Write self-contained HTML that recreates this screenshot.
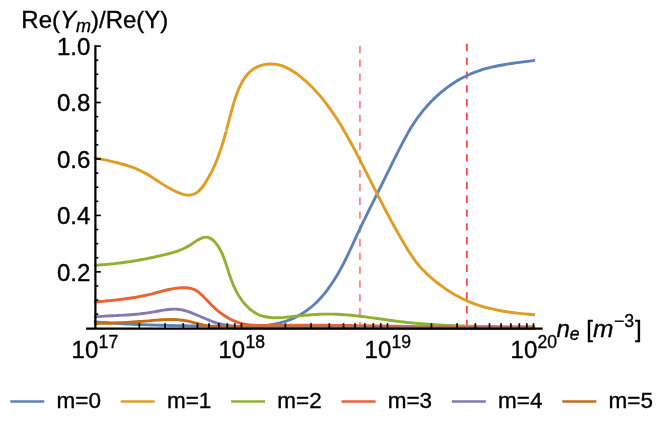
<!DOCTYPE html>
<html><head><meta charset="utf-8"><style>
html,body{margin:0;padding:0;background:#fff;}
body{width:664px;height:428px;position:relative;overflow:hidden;}
svg{position:absolute;left:0;top:0;display:block;will-change:transform;opacity:0.999;}
text{font-family:"Liberation Sans",sans-serif;fill:#000;stroke:#000;stroke-width:0.35px;}
</style></head><body>
<svg width="664" height="428" viewBox="0 0 664 428">
<line x1="359.9" y1="45.8" x2="359.9" y2="327.5" stroke="#ff8a8a" stroke-width="1.9" stroke-dasharray="7.4 6.4"/>
<line x1="466.85" y1="43.8" x2="466.85" y2="327.5" stroke="#ff2a2a" stroke-width="1.5" stroke-dasharray="7.4 6.4"/>
<path d="M95.27 321.86 C95.96 321.91 98.05 322.09 99.44 322.20 C100.83 322.31 102.22 322.41 103.61 322.52 C105.00 322.62 106.39 322.72 107.77 322.82 C109.15 322.91 110.54 323.01 111.92 323.10 C113.30 323.19 114.68 323.28 116.06 323.36 C117.44 323.45 118.82 323.53 120.19 323.61 C121.57 323.69 122.94 323.76 124.32 323.83 C125.69 323.91 127.07 323.98 128.44 324.05 C129.81 324.12 131.18 324.18 132.55 324.24 C133.92 324.31 135.29 324.37 136.66 324.43 C138.03 324.49 139.40 324.54 140.76 324.60 C142.13 324.65 143.50 324.70 144.87 324.75 C146.23 324.80 147.60 324.85 148.96 324.90 C150.33 324.95 151.69 324.99 153.06 325.03 C154.42 325.08 155.79 325.12 157.15 325.16 C158.52 325.20 159.88 325.23 161.25 325.27 C162.61 325.31 163.97 325.34 165.34 325.37 C166.70 325.41 168.07 325.44 169.43 325.47 C170.80 325.50 172.16 325.53 173.53 325.56 C174.89 325.59 176.26 325.62 177.62 325.64 C178.99 325.67 180.35 325.70 181.72 325.72 C183.09 325.75 184.45 325.77 185.82 325.80 C187.19 325.82 188.56 325.84 189.93 325.86 C191.30 325.89 192.67 325.91 194.04 325.93 C195.41 325.95 196.78 325.97 198.15 325.99 C199.52 326.01 200.90 326.03 202.27 326.05 C203.65 326.07 205.02 326.09 206.40 326.11 C207.78 326.13 209.16 326.15 210.53 326.17 C211.91 326.19 213.30 326.21 214.68 326.24 C216.06 326.26 217.44 326.28 218.83 326.30 C220.21 326.32 221.60 326.34 222.99 326.36 C224.38 326.38 225.77 326.41 227.16 326.43 C228.55 326.45 229.95 326.48 231.34 326.50 C232.73 326.52 234.13 326.54 235.53 326.56 C236.92 326.58 238.32 326.59 239.71 326.60 C241.11 326.61 242.50 326.61 243.90 326.60 C245.29 326.59 246.68 326.58 248.07 326.56 C249.46 326.53 250.85 326.50 252.23 326.45 C253.62 326.40 255.00 326.34 256.38 326.26 C257.75 326.18 259.13 326.09 260.49 325.98 C261.86 325.87 263.23 325.75 264.58 325.60 C265.94 325.46 267.29 325.29 268.64 325.10 C269.98 324.92 271.32 324.71 272.65 324.47 C273.99 324.24 275.31 323.98 276.63 323.70 C277.94 323.41 279.25 323.11 280.55 322.77 C281.85 322.43 283.14 322.06 284.42 321.66 C285.70 321.26 286.97 320.83 288.23 320.37 C289.49 319.91 290.74 319.41 291.98 318.88 C293.22 318.35 294.44 317.78 295.66 317.18 C296.87 316.58 298.07 315.94 299.26 315.27 C300.44 314.60 301.62 313.89 302.77 313.16 C303.93 312.42 305.07 311.65 306.20 310.86 C307.32 310.06 308.43 309.24 309.51 308.39 C310.60 307.54 311.67 306.65 312.72 305.75 C313.77 304.85 314.80 303.91 315.81 302.96 C316.81 302.01 317.80 301.03 318.76 300.03 C319.72 299.03 320.66 298.01 321.58 296.97 C322.50 295.93 323.40 294.87 324.27 293.80 C325.15 292.72 326.01 291.63 326.85 290.53 C327.69 289.42 328.51 288.30 329.31 287.18 C330.12 286.05 330.90 284.91 331.67 283.76 C332.45 282.61 333.20 281.45 333.95 280.29 C334.69 279.13 335.41 277.95 336.13 276.77 C336.84 275.59 337.54 274.41 338.23 273.22 C338.92 272.02 339.60 270.82 340.26 269.62 C340.93 268.42 341.58 267.21 342.22 265.99 C342.86 264.78 343.49 263.56 344.12 262.34 C344.74 261.12 345.35 259.89 345.96 258.66 C346.56 257.43 347.16 256.20 347.75 254.96 C348.34 253.72 348.93 252.49 349.51 251.25 C350.09 250.01 350.67 248.76 351.24 247.52 C351.82 246.28 352.39 245.03 352.96 243.79 C353.53 242.54 354.10 241.30 354.67 240.05 C355.24 238.81 355.81 237.56 356.38 236.32 C356.96 235.08 357.53 233.83 358.11 232.59 C358.69 231.35 359.27 230.11 359.86 228.87 C360.45 227.64 361.04 226.40 361.63 225.17 C362.23 223.93 362.83 222.70 363.43 221.46 C364.03 220.23 364.63 219.00 365.24 217.77 C365.84 216.54 366.45 215.31 367.06 214.08 C367.67 212.85 368.28 211.62 368.89 210.39 C369.51 209.16 370.12 207.94 370.73 206.71 C371.35 205.48 371.96 204.25 372.58 203.03 C373.19 201.80 373.81 200.57 374.42 199.34 C375.03 198.11 375.65 196.88 376.26 195.65 C376.87 194.42 377.48 193.19 378.09 191.96 C378.70 190.73 379.31 189.50 379.92 188.27 C380.53 187.03 381.14 185.80 381.74 184.57 C382.35 183.33 382.96 182.10 383.56 180.87 C384.17 179.63 384.77 178.40 385.38 177.17 C385.99 175.93 386.59 174.70 387.20 173.47 C387.80 172.23 388.41 171.00 389.02 169.77 C389.62 168.53 390.23 167.30 390.84 166.07 C391.45 164.84 392.06 163.61 392.67 162.38 C393.28 161.15 393.89 159.92 394.51 158.69 C395.12 157.46 395.74 156.23 396.35 155.00 C396.97 153.78 397.59 152.55 398.21 151.33 C398.83 150.10 399.45 148.88 400.08 147.66 C400.70 146.44 401.33 145.22 401.96 144.00 C402.60 142.78 403.23 141.57 403.88 140.36 C404.52 139.15 405.17 137.94 405.83 136.74 C406.49 135.54 407.16 134.34 407.83 133.15 C408.51 131.96 409.20 130.78 409.90 129.60 C410.60 128.42 411.32 127.25 412.04 126.09 C412.77 124.93 413.52 123.78 414.27 122.64 C415.03 121.49 415.81 120.36 416.60 119.24 C417.39 118.11 418.19 117.00 419.02 115.90 C419.84 114.80 420.67 113.71 421.53 112.63 C422.38 111.55 423.25 110.48 424.13 109.43 C425.01 108.37 425.91 107.33 426.82 106.30 C427.73 105.27 428.66 104.25 429.60 103.25 C430.55 102.25 431.50 101.26 432.47 100.28 C433.44 99.31 434.43 98.35 435.43 97.40 C436.43 96.46 437.44 95.53 438.47 94.61 C439.50 93.70 440.54 92.80 441.59 91.92 C442.65 91.04 443.72 90.17 444.80 89.32 C445.88 88.48 446.98 87.65 448.09 86.83 C449.20 86.02 450.32 85.23 451.45 84.45 C452.59 83.68 453.74 82.92 454.90 82.19 C456.06 81.45 457.23 80.74 458.42 80.05 C459.60 79.36 460.80 78.69 462.00 78.04 C463.21 77.40 464.43 76.78 465.66 76.18 C466.89 75.58 468.14 75.01 469.39 74.47 C470.64 73.92 471.90 73.40 473.18 72.90 C474.45 72.40 475.73 71.92 477.02 71.47 C478.31 71.01 479.61 70.58 480.91 70.16 C482.22 69.75 483.53 69.36 484.85 68.98 C486.17 68.60 487.50 68.25 488.83 67.90 C490.17 67.56 491.50 67.24 492.85 66.93 C494.19 66.62 495.54 66.32 496.89 66.04 C498.24 65.76 499.59 65.49 500.95 65.24 C502.31 64.98 503.67 64.74 505.03 64.50 C506.39 64.27 507.76 64.05 509.12 63.83 C510.49 63.62 511.85 63.41 513.22 63.21 C514.58 63.01 515.95 62.82 517.31 62.63 C518.68 62.45 520.04 62.27 521.40 62.09 C522.76 61.91 524.12 61.74 525.48 61.57 C526.83 61.40 528.19 61.23 529.54 61.07 C530.89 60.90 532.90 60.65 533.58 60.57" fill="none" stroke="#5e81b5" stroke-width="2.9" stroke-linejoin="round" stroke-linecap="square"/>
<path d="M95.51 157.97 C96.27 158.13 98.51 158.62 100.02 158.95 C101.53 159.27 103.05 159.58 104.58 159.91 C106.10 160.23 107.64 160.55 109.17 160.89 C110.70 161.22 112.24 161.56 113.78 161.92 C115.31 162.27 116.85 162.64 118.37 163.02 C119.90 163.41 121.43 163.81 122.94 164.23 C124.46 164.66 125.97 165.10 127.46 165.58 C128.96 166.06 130.45 166.56 131.92 167.09 C133.39 167.63 134.84 168.19 136.28 168.80 C137.72 169.41 139.13 170.05 140.53 170.73 C141.93 171.41 143.30 172.14 144.67 172.89 C146.03 173.65 147.37 174.44 148.71 175.25 C150.04 176.05 151.37 176.89 152.69 177.73 C154.01 178.57 155.33 179.43 156.64 180.28 C157.96 181.14 159.28 182.00 160.60 182.85 C161.93 183.70 163.26 184.55 164.60 185.38 C165.95 186.20 167.30 187.02 168.67 187.80 C170.05 188.59 171.43 189.35 172.85 190.07 C174.26 190.79 175.70 191.50 177.16 192.13 C178.62 192.76 180.12 193.40 181.62 193.87 C183.11 194.34 184.64 194.77 186.13 194.95 C187.62 195.13 189.13 195.15 190.56 194.94 C191.99 194.74 193.41 194.32 194.72 193.71 C196.03 193.11 197.28 192.28 198.43 191.32 C199.58 190.37 200.62 189.19 201.63 187.99 C202.63 186.78 203.55 185.42 204.46 184.09 C205.36 182.76 206.22 181.37 207.05 179.99 C207.88 178.62 208.68 177.22 209.46 175.82 C210.23 174.41 210.97 173.00 211.69 171.57 C212.41 170.14 213.10 168.71 213.76 167.26 C214.43 165.82 215.07 164.37 215.68 162.91 C216.30 161.45 216.89 159.98 217.47 158.51 C218.04 157.04 218.59 155.56 219.13 154.08 C219.66 152.61 220.17 151.12 220.67 149.64 C221.17 148.16 221.65 146.67 222.11 145.19 C222.58 143.70 223.03 142.22 223.47 140.73 C223.91 139.25 224.33 137.77 224.74 136.29 C225.16 134.82 225.56 133.34 225.96 131.87 C226.35 130.40 226.74 128.93 227.13 127.45 C227.52 125.98 227.90 124.51 228.28 123.03 C228.67 121.55 229.05 120.08 229.44 118.59 C229.84 117.10 230.23 115.61 230.63 114.12 C231.04 112.62 231.45 111.11 231.87 109.59 C232.30 108.08 232.73 106.55 233.19 105.01 C233.64 103.48 234.11 101.92 234.60 100.37 C235.09 98.82 235.60 97.25 236.15 95.70 C236.69 94.16 237.26 92.61 237.86 91.10 C238.47 89.58 239.10 88.08 239.78 86.62 C240.46 85.16 241.18 83.72 241.95 82.34 C242.72 80.97 243.53 79.62 244.40 78.35 C245.27 77.08 246.18 75.85 247.17 74.71 C248.15 73.57 249.18 72.49 250.29 71.50 C251.40 70.52 252.57 69.60 253.81 68.80 C255.06 67.99 256.38 67.28 257.76 66.67 C259.14 66.06 260.61 65.56 262.10 65.16 C263.59 64.76 265.15 64.47 266.71 64.28 C268.27 64.09 269.87 64.01 271.46 64.03 C273.05 64.05 274.66 64.18 276.23 64.42 C277.80 64.65 279.37 65.00 280.89 65.45 C282.41 65.90 283.89 66.47 285.33 67.10 C286.78 67.74 288.19 68.48 289.57 69.26 C290.95 70.03 292.29 70.89 293.62 71.75 C294.94 72.62 296.24 73.52 297.51 74.45 C298.78 75.38 300.03 76.34 301.25 77.32 C302.48 78.30 303.68 79.31 304.86 80.34 C306.04 81.37 307.20 82.42 308.34 83.50 C309.48 84.57 310.60 85.66 311.70 86.78 C312.79 87.89 313.87 89.02 314.94 90.16 C316.00 91.31 317.04 92.47 318.07 93.64 C319.10 94.81 320.11 96.00 321.10 97.20 C322.10 98.40 323.08 99.61 324.04 100.83 C325.01 102.05 325.96 103.28 326.89 104.52 C327.83 105.76 328.75 107.02 329.66 108.28 C330.57 109.54 331.47 110.82 332.35 112.10 C333.24 113.38 334.11 114.67 334.97 115.97 C335.83 117.27 336.68 118.58 337.52 119.89 C338.36 121.20 339.18 122.53 340.00 123.86 C340.82 125.19 341.63 126.52 342.43 127.86 C343.23 129.21 344.02 130.55 344.81 131.91 C345.59 133.26 346.37 134.62 347.14 135.98 C347.90 137.35 348.67 138.72 349.42 140.09 C350.18 141.46 350.93 142.84 351.67 144.22 C352.41 145.60 353.15 146.98 353.89 148.36 C354.62 149.75 355.35 151.14 356.08 152.53 C356.80 153.91 357.52 155.31 358.24 156.70 C358.97 158.09 359.68 159.48 360.40 160.88 C361.11 162.27 361.82 163.66 362.54 165.06 C363.25 166.45 363.96 167.85 364.67 169.24 C365.38 170.64 366.08 172.03 366.79 173.43 C367.50 174.82 368.20 176.22 368.91 177.61 C369.61 179.01 370.32 180.40 371.02 181.80 C371.73 183.19 372.43 184.59 373.14 185.98 C373.84 187.37 374.55 188.77 375.26 190.16 C375.96 191.55 376.67 192.94 377.38 194.33 C378.09 195.72 378.80 197.11 379.51 198.50 C380.22 199.89 380.94 201.28 381.65 202.67 C382.37 204.05 383.09 205.44 383.81 206.82 C384.53 208.21 385.25 209.59 385.98 210.97 C386.70 212.35 387.43 213.73 388.16 215.11 C388.89 216.49 389.63 217.86 390.37 219.24 C391.11 220.61 391.85 221.99 392.60 223.36 C393.34 224.73 394.10 226.10 394.85 227.46 C395.61 228.83 396.37 230.19 397.13 231.55 C397.90 232.92 398.67 234.28 399.44 235.63 C400.22 236.99 401.00 238.34 401.79 239.70 C402.57 241.05 403.37 242.40 404.17 243.74 C404.96 245.09 405.77 246.43 406.58 247.77 C407.40 249.10 408.22 250.44 409.06 251.76 C409.90 253.07 410.76 254.39 411.63 255.68 C412.50 256.98 413.39 258.26 414.30 259.52 C415.22 260.79 416.15 262.03 417.11 263.26 C418.08 264.48 419.06 265.69 420.08 266.86 C421.10 268.04 422.15 269.19 423.23 270.32 C424.31 271.45 425.42 272.54 426.56 273.62 C427.69 274.70 428.86 275.75 430.03 276.79 C431.21 277.82 432.42 278.84 433.63 279.83 C434.84 280.83 436.07 281.81 437.31 282.77 C438.55 283.74 439.81 284.68 441.07 285.61 C442.34 286.54 443.62 287.45 444.91 288.34 C446.21 289.22 447.51 290.09 448.83 290.94 C450.15 291.78 451.48 292.61 452.82 293.41 C454.16 294.22 455.52 295.00 456.88 295.75 C458.25 296.51 459.63 297.24 461.02 297.95 C462.41 298.65 463.81 299.33 465.23 299.99 C466.64 300.64 468.07 301.27 469.50 301.87 C470.94 302.47 472.39 303.04 473.85 303.58 C475.31 304.13 476.78 304.64 478.26 305.13 C479.74 305.62 481.23 306.08 482.72 306.52 C484.22 306.96 485.73 307.38 487.24 307.77 C488.75 308.16 490.27 308.53 491.80 308.88 C493.32 309.23 494.85 309.56 496.39 309.87 C497.93 310.18 499.47 310.47 501.01 310.75 C502.56 311.02 504.11 311.28 505.66 311.52 C507.21 311.77 508.76 311.99 510.32 312.21 C511.87 312.43 513.43 312.63 514.98 312.82 C516.54 313.01 518.09 313.19 519.65 313.36 C521.20 313.53 522.76 313.69 524.31 313.84 C525.86 314.00 527.41 314.14 528.95 314.28 C530.50 314.42 532.81 314.62 533.58 314.68" fill="none" stroke="#e19c24" stroke-width="2.9" stroke-linejoin="round" stroke-linecap="square"/>
<path d="M95.51 265.21 C96.09 265.18 97.84 265.08 99.00 265.01 C100.17 264.93 101.33 264.85 102.50 264.77 C103.67 264.68 104.83 264.59 106.00 264.49 C107.16 264.39 108.33 264.28 109.50 264.17 C110.67 264.06 111.83 263.94 113.00 263.82 C114.17 263.69 115.33 263.56 116.50 263.43 C117.66 263.29 118.83 263.15 120.00 263.00 C121.16 262.86 122.33 262.70 123.49 262.55 C124.66 262.39 125.82 262.22 126.98 262.05 C128.15 261.88 129.31 261.71 130.47 261.53 C131.63 261.35 132.80 261.16 133.96 260.97 C135.12 260.78 136.28 260.58 137.43 260.38 C138.59 260.18 139.75 259.97 140.90 259.76 C142.06 259.55 143.21 259.33 144.37 259.11 C145.52 258.89 146.67 258.66 147.82 258.43 C148.97 258.20 150.12 257.96 151.27 257.72 C152.41 257.48 153.56 257.24 154.70 256.99 C155.84 256.74 156.99 256.48 158.12 256.22 C159.26 255.97 160.40 255.70 161.54 255.43 C162.67 255.17 163.80 254.90 164.93 254.62 C166.07 254.34 167.19 254.07 168.32 253.78 C169.44 253.48 170.57 253.19 171.68 252.87 C172.80 252.56 173.91 252.23 175.02 251.88 C176.13 251.53 177.23 251.17 178.32 250.77 C179.42 250.37 180.51 249.96 181.59 249.51 C182.67 249.05 183.74 248.57 184.80 248.05 C185.87 247.53 186.92 246.98 187.97 246.38 C189.01 245.78 190.04 245.13 191.07 244.46 C192.10 243.79 193.11 243.06 194.14 242.37 C195.17 241.68 196.20 240.95 197.25 240.32 C198.31 239.69 199.39 239.05 200.48 238.57 C201.56 238.08 202.67 237.64 203.74 237.41 C204.82 237.18 205.90 237.08 206.92 237.20 C207.95 237.31 208.95 237.65 209.90 238.11 C210.85 238.56 211.77 239.22 212.64 239.92 C213.51 240.63 214.34 241.49 215.12 242.35 C215.90 243.21 216.63 244.15 217.32 245.10 C218.01 246.05 218.65 247.04 219.25 248.04 C219.85 249.05 220.41 250.09 220.95 251.14 C221.48 252.19 221.97 253.27 222.45 254.36 C222.92 255.46 223.36 256.57 223.79 257.69 C224.22 258.80 224.62 259.94 225.02 261.07 C225.41 262.21 225.79 263.36 226.16 264.50 C226.54 265.64 226.90 266.79 227.26 267.93 C227.63 269.06 227.99 270.20 228.36 271.33 C228.72 272.46 229.09 273.58 229.47 274.70 C229.85 275.81 230.23 276.92 230.62 278.02 C231.02 279.12 231.42 280.21 231.83 281.30 C232.25 282.38 232.68 283.46 233.12 284.52 C233.57 285.59 234.03 286.65 234.51 287.70 C235.00 288.74 235.50 289.78 236.02 290.81 C236.55 291.83 237.09 292.85 237.67 293.86 C238.24 294.86 238.84 295.86 239.47 296.84 C240.10 297.82 240.76 298.79 241.45 299.75 C242.14 300.71 242.87 301.66 243.63 302.58 C244.38 303.51 245.18 304.43 246.00 305.31 C246.82 306.19 247.68 307.05 248.56 307.87 C249.44 308.69 250.35 309.47 251.28 310.20 C252.22 310.94 253.18 311.63 254.16 312.26 C255.14 312.88 256.15 313.45 257.17 313.96 C258.19 314.47 259.24 314.91 260.30 315.30 C261.36 315.70 262.44 316.03 263.54 316.31 C264.63 316.60 265.74 316.83 266.86 317.02 C267.99 317.22 269.12 317.36 270.27 317.48 C271.42 317.59 272.58 317.66 273.74 317.70 C274.91 317.74 276.08 317.75 277.27 317.73 C278.45 317.72 279.64 317.67 280.83 317.61 C282.02 317.55 283.22 317.47 284.41 317.38 C285.61 317.28 286.81 317.17 288.01 317.05 C289.21 316.94 290.41 316.81 291.61 316.68 C292.80 316.56 294.00 316.43 295.19 316.30 C296.38 316.18 297.56 316.05 298.75 315.93 C299.93 315.81 301.11 315.69 302.29 315.57 C303.46 315.46 304.64 315.35 305.81 315.24 C306.98 315.13 308.15 315.03 309.32 314.94 C310.49 314.84 311.65 314.75 312.82 314.67 C313.98 314.59 315.15 314.51 316.31 314.45 C317.47 314.38 318.63 314.32 319.79 314.27 C320.95 314.22 322.11 314.18 323.27 314.15 C324.43 314.12 325.59 314.10 326.76 314.10 C327.92 314.09 329.08 314.09 330.24 314.10 C331.40 314.12 332.56 314.14 333.72 314.17 C334.88 314.21 336.05 314.25 337.21 314.30 C338.37 314.35 339.53 314.42 340.70 314.48 C341.86 314.55 343.02 314.63 344.18 314.72 C345.35 314.80 346.51 314.89 347.68 314.99 C348.84 315.09 350.00 315.20 351.17 315.31 C352.33 315.42 353.50 315.54 354.66 315.66 C355.82 315.79 356.99 315.92 358.15 316.05 C359.32 316.18 360.48 316.32 361.65 316.46 C362.81 316.61 363.98 316.75 365.15 316.90 C366.31 317.05 367.48 317.20 368.64 317.36 C369.81 317.51 370.97 317.67 372.14 317.83 C373.31 317.99 374.47 318.15 375.64 318.31 C376.81 318.47 377.97 318.64 379.14 318.80 C380.31 318.96 381.47 319.13 382.64 319.29 C383.81 319.46 384.97 319.62 386.14 319.78 C387.31 319.94 388.47 320.11 389.64 320.26 C390.81 320.42 391.98 320.58 393.14 320.74 C394.31 320.89 395.48 321.05 396.65 321.19 C397.81 321.34 398.98 321.49 400.15 321.63 C401.31 321.77 402.48 321.91 403.65 322.05 C404.82 322.18 405.98 322.31 407.15 322.44 C408.32 322.56 409.49 322.69 410.66 322.81 C411.82 322.92 412.99 323.04 414.16 323.15 C415.33 323.26 416.49 323.37 417.66 323.47 C418.83 323.58 420.00 323.68 421.17 323.78 C422.33 323.87 423.50 323.97 424.67 324.06 C425.84 324.15 427.01 324.24 428.17 324.32 C429.34 324.41 430.51 324.49 431.68 324.56 C432.85 324.64 434.02 324.72 435.18 324.79 C436.35 324.86 437.52 324.93 438.69 325.00 C439.86 325.06 441.03 325.13 442.20 325.19 C443.37 325.25 444.53 325.31 445.70 325.37 C446.87 325.42 448.04 325.47 449.21 325.53 C450.38 325.58 451.55 325.63 452.72 325.67 C453.89 325.72 455.06 325.76 456.23 325.80 C457.40 325.85 458.57 325.89 459.74 325.92 C460.91 325.96 462.08 326.00 463.25 326.03 C464.42 326.07 465.59 326.10 466.76 326.13 C467.93 326.16 469.10 326.19 470.27 326.21 C471.44 326.24 472.61 326.26 473.78 326.29 C474.95 326.31 476.12 326.33 477.29 326.35 C478.46 326.37 479.64 326.39 480.81 326.41 C481.98 326.43 483.15 326.45 484.32 326.46 C485.49 326.48 486.66 326.49 487.84 326.50 C489.01 326.52 490.18 326.53 491.35 326.54 C492.52 326.55 493.70 326.56 494.87 326.57 C496.04 326.58 497.21 326.59 498.39 326.60 C499.56 326.61 500.73 326.61 501.91 326.62 C503.08 326.63 504.25 326.63 505.43 326.64 C506.60 326.64 507.77 326.65 508.95 326.66 C510.12 326.66 511.30 326.66 512.47 326.67 C513.64 326.67 514.82 326.68 515.99 326.68 C517.17 326.69 518.34 326.69 519.52 326.70 C520.69 326.70 521.87 326.70 523.04 326.71 C524.22 326.71 525.39 326.72 526.57 326.72 C527.75 326.73 528.92 326.73 530.10 326.74 C531.27 326.75 533.04 326.76 533.63 326.76" fill="none" stroke="#8fb032" stroke-width="2.9" stroke-linejoin="round" stroke-linecap="square"/>
<path d="M95.40 302.03 C95.94 301.98 97.56 301.82 98.64 301.72 C99.73 301.61 100.81 301.51 101.89 301.40 C102.97 301.30 104.05 301.20 105.13 301.09 C106.21 300.99 107.29 300.88 108.36 300.77 C109.44 300.66 110.52 300.55 111.60 300.44 C112.67 300.33 113.75 300.22 114.82 300.10 C115.90 299.98 116.97 299.86 118.05 299.74 C119.12 299.62 120.19 299.49 121.27 299.36 C122.34 299.23 123.41 299.10 124.48 298.96 C125.55 298.82 126.62 298.67 127.69 298.52 C128.76 298.37 129.83 298.22 130.89 298.05 C131.96 297.89 133.03 297.73 134.09 297.55 C135.16 297.38 136.22 297.19 137.29 297.01 C138.35 296.82 139.41 296.62 140.48 296.42 C141.54 296.21 142.60 296.00 143.66 295.78 C144.72 295.55 145.78 295.32 146.84 295.08 C147.90 294.84 148.96 294.59 150.01 294.34 C151.07 294.08 152.13 293.81 153.18 293.53 C154.24 293.26 155.29 292.97 156.35 292.69 C157.40 292.41 158.46 292.12 159.51 291.84 C160.57 291.56 161.62 291.28 162.68 291.01 C163.73 290.74 164.79 290.47 165.84 290.22 C166.90 289.97 167.96 289.72 169.02 289.49 C170.08 289.27 171.14 289.05 172.20 288.86 C173.26 288.67 174.32 288.49 175.39 288.34 C176.45 288.19 177.52 288.06 178.59 287.97 C179.66 287.87 180.73 287.80 181.81 287.76 C182.88 287.72 183.96 287.71 185.04 287.74 C186.12 287.78 187.21 287.82 188.28 287.96 C189.35 288.09 190.43 288.25 191.46 288.54 C192.50 288.83 193.51 289.21 194.48 289.67 C195.45 290.14 196.38 290.72 197.28 291.32 C198.18 291.92 199.04 292.59 199.87 293.27 C200.71 293.96 201.50 294.68 202.28 295.41 C203.07 296.15 203.82 296.92 204.57 297.69 C205.32 298.46 206.05 299.25 206.79 300.04 C207.53 300.83 208.25 301.63 209.00 302.42 C209.74 303.21 210.49 304.00 211.26 304.78 C212.03 305.55 212.81 306.32 213.60 307.07 C214.40 307.82 215.21 308.56 216.04 309.28 C216.86 310.00 217.70 310.71 218.56 311.40 C219.41 312.09 220.28 312.76 221.16 313.41 C222.04 314.06 222.93 314.69 223.84 315.30 C224.74 315.91 225.66 316.50 226.59 317.06 C227.52 317.62 228.46 318.16 229.42 318.67 C230.37 319.19 231.33 319.67 232.31 320.13 C233.28 320.58 234.27 321.01 235.27 321.41 C236.26 321.81 237.27 322.17 238.28 322.51 C239.30 322.84 240.32 323.14 241.35 323.40 C242.39 323.67 243.43 323.90 244.48 324.11 C245.53 324.31 246.59 324.49 247.65 324.64 C248.71 324.79 249.78 324.91 250.86 325.02 C251.93 325.12 253.01 325.21 254.09 325.27 C255.17 325.34 256.26 325.39 257.35 325.42 C258.44 325.46 259.53 325.48 260.63 325.50 C261.72 325.51 262.82 325.51 263.91 325.51 C265.01 325.51 266.10 325.50 267.20 325.49 C268.29 325.48 269.39 325.47 270.48 325.46 C271.57 325.45 272.66 325.44 273.75 325.43 C274.84 325.42 275.93 325.41 277.01 325.40 C278.10 325.39 279.19 325.38 280.27 325.37 C281.36 325.37 282.44 325.36 283.52 325.35 C284.61 325.34 285.69 325.33 286.77 325.33 C287.85 325.32 288.93 325.31 290.02 325.31 C291.10 325.30 292.18 325.29 293.26 325.29 C294.34 325.28 295.42 325.28 296.50 325.27 C297.58 325.27 298.65 325.27 299.73 325.26 C300.81 325.26 301.89 325.26 302.97 325.25 C304.05 325.25 305.13 325.25 306.21 325.25 C307.29 325.25 308.37 325.25 309.45 325.25 C310.53 325.25 311.61 325.25 312.70 325.26 C313.78 325.26 314.86 325.26 315.94 325.27 C317.02 325.27 318.10 325.27 319.18 325.28 C320.26 325.28 321.35 325.29 322.43 325.29 C323.51 325.30 324.59 325.30 325.67 325.31 C326.76 325.32 327.84 325.33 328.92 325.33 C330.00 325.34 331.08 325.35 332.17 325.36 C333.25 325.37 334.33 325.38 335.42 325.39 C336.50 325.40 337.58 325.41 338.66 325.42 C339.75 325.43 340.83 325.44 341.91 325.45 C343.00 325.46 344.08 325.47 345.16 325.49 C346.25 325.50 347.33 325.51 348.41 325.52 C349.50 325.54 350.58 325.55 351.66 325.56 C352.75 325.58 353.83 325.59 354.91 325.60 C356.00 325.62 357.08 325.63 358.16 325.65 C359.25 325.66 360.33 325.68 361.42 325.69 C362.50 325.71 363.58 325.72 364.67 325.74 C365.75 325.75 366.83 325.77 367.92 325.79 C369.00 325.80 370.09 325.82 371.17 325.84 C372.25 325.85 373.34 325.87 374.42 325.89 C375.50 325.90 376.59 325.92 377.67 325.94 C378.75 325.95 379.84 325.97 380.92 325.99 C382.00 326.01 383.09 326.02 384.17 326.04 C385.26 326.06 386.34 326.08 387.42 326.09 C388.50 326.11 389.59 326.13 390.67 326.15 C391.75 326.16 392.84 326.18 393.92 326.20 C395.00 326.22 396.09 326.24 397.17 326.25 C398.25 326.27 399.34 326.29 400.42 326.31 C401.50 326.33 402.58 326.34 403.67 326.36 C404.75 326.38 405.83 326.40 406.92 326.42 C408.00 326.43 409.08 326.45 410.16 326.47 C411.25 326.49 412.33 326.51 413.41 326.53 C414.50 326.54 415.58 326.56 416.66 326.58 C417.74 326.60 418.83 326.62 419.91 326.63 C420.99 326.65 422.07 326.67 423.16 326.69 C424.24 326.71 425.32 326.72 426.40 326.74 C427.49 326.76 428.57 326.78 429.65 326.80 C430.74 326.81 431.82 326.83 432.90 326.85 C433.98 326.87 435.07 326.88 436.15 326.90 C437.23 326.92 438.31 326.94 439.39 326.95 C440.48 326.97 441.56 326.99 442.64 327.01 C443.72 327.02 444.81 327.04 445.89 327.06 C446.97 327.07 448.05 327.09 449.14 327.11 C450.22 327.12 451.30 327.14 452.38 327.16 C453.47 327.17 454.55 327.19 455.63 327.20 C456.71 327.22 457.80 327.24 458.88 327.25 C459.96 327.27 461.04 327.28 462.13 327.30 C463.21 327.31 464.29 327.33 465.37 327.34 C466.46 327.36 467.54 327.37 468.62 327.39 C469.70 327.40 470.79 327.42 471.87 327.43 C472.95 327.45 474.03 327.46 475.12 327.47 C476.20 327.49 477.28 327.50 478.36 327.52 C479.45 327.53 480.53 327.54 481.61 327.55 C482.70 327.57 483.78 327.58 484.86 327.59 C485.94 327.60 487.03 327.62 488.11 327.63 C489.19 327.64 490.27 327.65 491.36 327.66 C492.44 327.68 493.52 327.69 494.61 327.70 C495.69 327.71 496.77 327.72 497.85 327.73 C498.94 327.74 500.02 327.75 501.10 327.76 C502.19 327.77 503.27 327.78 504.35 327.79 C505.44 327.80 506.52 327.80 507.60 327.81 C508.69 327.82 509.77 327.83 510.85 327.84 C511.94 327.85 513.02 327.85 514.10 327.86 C515.19 327.87 516.27 327.87 517.35 327.88 C518.44 327.89 519.52 327.89 520.60 327.90 C521.69 327.90 522.77 327.91 523.85 327.91 C524.94 327.92 526.02 327.92 527.10 327.93 C528.19 327.93 529.27 327.93 530.36 327.94 C531.44 327.94 533.07 327.95 533.61 327.95" fill="none" stroke="#eb6235" stroke-width="2.9" stroke-linejoin="round" stroke-linecap="square"/>
<path d="M95.39 316.83 C95.92 316.79 97.52 316.66 98.59 316.58 C99.65 316.50 100.71 316.43 101.77 316.36 C102.84 316.29 103.90 316.23 104.96 316.16 C106.02 316.10 107.07 316.04 108.13 315.99 C109.19 315.93 110.25 315.88 111.30 315.82 C112.36 315.77 113.41 315.72 114.47 315.66 C115.52 315.61 116.58 315.56 117.63 315.51 C118.68 315.45 119.74 315.40 120.79 315.34 C121.84 315.29 122.89 315.23 123.95 315.17 C125.00 315.11 126.05 315.05 127.10 314.98 C128.15 314.91 129.20 314.84 130.25 314.76 C131.30 314.69 132.35 314.61 133.41 314.52 C134.46 314.43 135.51 314.34 136.56 314.24 C137.61 314.14 138.66 314.04 139.71 313.92 C140.76 313.81 141.81 313.69 142.86 313.56 C143.92 313.43 144.97 313.29 146.02 313.14 C147.07 312.99 148.13 312.83 149.18 312.66 C150.23 312.49 151.29 312.30 152.34 312.12 C153.39 311.93 154.45 311.73 155.50 311.54 C156.56 311.34 157.61 311.14 158.67 310.95 C159.72 310.76 160.77 310.57 161.83 310.39 C162.88 310.22 163.93 310.05 164.98 309.90 C166.03 309.76 167.08 309.62 168.13 309.51 C169.18 309.40 170.23 309.31 171.27 309.25 C172.32 309.20 173.36 309.16 174.40 309.17 C175.44 309.17 176.48 309.20 177.52 309.28 C178.56 309.36 179.59 309.47 180.62 309.64 C181.65 309.80 182.68 310.01 183.71 310.26 C184.73 310.51 185.75 310.82 186.77 311.14 C187.79 311.46 188.80 311.82 189.80 312.18 C190.81 312.55 191.81 312.95 192.80 313.34 C193.79 313.73 194.78 314.14 195.76 314.54 C196.74 314.95 197.71 315.36 198.68 315.77 C199.66 316.18 200.62 316.60 201.59 317.02 C202.56 317.44 203.53 317.86 204.50 318.28 C205.47 318.70 206.44 319.12 207.42 319.54 C208.40 319.95 209.37 320.36 210.36 320.75 C211.34 321.15 212.33 321.53 213.32 321.89 C214.32 322.25 215.32 322.60 216.33 322.91 C217.34 323.22 218.35 323.51 219.38 323.77 C220.40 324.03 221.43 324.26 222.47 324.48 C223.50 324.69 224.54 324.88 225.59 325.06 C226.63 325.23 227.68 325.38 228.73 325.52 C229.78 325.67 230.83 325.79 231.88 325.91 C232.93 326.02 233.99 326.12 235.04 326.22 C236.09 326.31 237.15 326.39 238.20 326.46 C239.26 326.53 240.31 326.59 241.37 326.65 C242.43 326.70 243.49 326.74 244.54 326.78 C245.60 326.82 246.66 326.85 247.72 326.88 C248.78 326.90 249.84 326.92 250.90 326.94 C251.96 326.96 253.02 326.97 254.08 326.98 C255.14 326.98 256.20 326.99 257.26 326.99 C258.32 327.00 259.38 327.00 260.44 327.00 C261.50 327.00 262.56 327.00 263.62 327.01 C264.68 327.01 265.74 327.01 266.80 327.02 C267.86 327.02 268.92 327.02 269.97 327.03 C271.03 327.03 272.09 327.04 273.15 327.05 C274.21 327.05 275.27 327.06 276.33 327.07 C277.39 327.07 278.45 327.08 279.51 327.09 C280.56 327.10 281.62 327.10 282.68 327.11 C283.74 327.12 284.80 327.13 285.86 327.14 C286.92 327.15 287.97 327.16 289.03 327.17 C290.09 327.17 291.15 327.18 292.21 327.19 C293.27 327.20 294.32 327.21 295.38 327.22 C296.44 327.23 297.50 327.24 298.56 327.25 C299.62 327.26 300.67 327.26 301.73 327.27 C302.79 327.28 303.85 327.29 304.91 327.30 C305.97 327.30 307.02 327.31 308.08 327.32 C309.14 327.33 310.20 327.33 311.26 327.34 C312.32 327.35 313.38 327.35 314.43 327.36 C315.49 327.37 316.55 327.37 317.61 327.38 C318.67 327.38 319.73 327.39 320.79 327.40 C321.84 327.40 322.90 327.41 323.96 327.41 C325.02 327.42 326.08 327.42 327.14 327.43 C328.20 327.43 329.25 327.44 330.31 327.44 C331.37 327.45 332.43 327.45 333.49 327.46 C334.55 327.46 335.61 327.46 336.67 327.47 C337.72 327.47 338.78 327.48 339.84 327.48 C340.90 327.49 341.96 327.49 343.02 327.49 C344.08 327.50 345.14 327.50 346.20 327.50 C347.25 327.51 348.31 327.51 349.37 327.52 C350.43 327.52 351.49 327.52 352.55 327.53 C353.61 327.53 354.67 327.53 355.73 327.54 C356.78 327.54 357.84 327.54 358.90 327.55 C359.96 327.55 361.02 327.55 362.08 327.55 C363.14 327.56 364.20 327.56 365.26 327.56 C366.31 327.57 367.37 327.57 368.43 327.57 C369.49 327.58 370.55 327.58 371.61 327.58 C372.67 327.59 373.73 327.59 374.79 327.59 C375.84 327.59 376.90 327.60 377.96 327.60 C379.02 327.60 380.08 327.61 381.14 327.61 C382.20 327.61 383.26 327.62 384.31 327.62 C385.37 327.62 386.43 327.63 387.49 327.63 C388.55 327.63 389.61 327.64 390.67 327.64 C391.73 327.64 392.79 327.65 393.84 327.65 C394.90 327.65 395.96 327.66 397.02 327.66 C398.08 327.67 399.14 327.67 400.20 327.67 C401.26 327.68 402.31 327.68 403.37 327.69 C404.43 327.69 405.49 327.69 406.55 327.70 C407.61 327.70 408.67 327.70 409.73 327.71 C410.79 327.71 411.84 327.72 412.90 327.72 C413.96 327.73 415.02 327.73 416.08 327.73 C417.14 327.74 418.20 327.74 419.26 327.75 C420.31 327.75 421.37 327.75 422.43 327.76 C423.49 327.76 424.55 327.77 425.61 327.77 C426.67 327.78 427.73 327.78 428.78 327.78 C429.84 327.79 430.90 327.79 431.96 327.80 C433.02 327.80 434.08 327.81 435.14 327.81 C436.19 327.82 437.25 327.82 438.31 327.82 C439.37 327.83 440.43 327.83 441.49 327.84 C442.55 327.84 443.61 327.85 444.66 327.85 C445.72 327.86 446.78 327.86 447.84 327.86 C448.90 327.87 449.96 327.87 451.02 327.88 C452.08 327.88 453.13 327.89 454.19 327.89 C455.25 327.90 456.31 327.90 457.37 327.91 C458.43 327.91 459.49 327.91 460.55 327.92 C461.60 327.92 462.66 327.93 463.72 327.93 C464.78 327.94 465.84 327.94 466.90 327.95 C467.96 327.95 469.01 327.96 470.07 327.96 C471.13 327.96 472.19 327.97 473.25 327.97 C474.31 327.98 475.37 327.98 476.43 327.99 C477.48 327.99 478.54 327.99 479.60 328.00 C480.66 328.00 481.72 328.01 482.78 328.01 C483.84 328.02 484.90 328.02 485.95 328.03 C487.01 328.03 488.07 328.03 489.13 328.04 C490.19 328.04 491.25 328.05 492.31 328.05 C493.37 328.05 494.42 328.06 495.48 328.06 C496.54 328.07 497.60 328.07 498.66 328.08 C499.72 328.08 500.78 328.08 501.84 328.09 C502.89 328.09 503.95 328.10 505.01 328.10 C506.07 328.10 507.13 328.11 508.19 328.11 C509.25 328.11 510.31 328.12 511.36 328.12 C512.42 328.13 513.48 328.13 514.54 328.13 C515.60 328.14 516.66 328.14 517.72 328.14 C518.78 328.15 519.84 328.15 520.89 328.15 C521.95 328.16 523.01 328.16 524.07 328.16 C525.13 328.17 526.19 328.17 527.25 328.17 C528.31 328.18 529.37 328.18 530.42 328.18 C531.48 328.19 533.07 328.19 533.60 328.19" fill="none" stroke="#8778b3" stroke-width="2.9" stroke-linejoin="round" stroke-linecap="square"/>
<path d="M95.40 323.51 C95.92 323.50 97.51 323.47 98.57 323.45 C99.63 323.42 100.68 323.40 101.74 323.37 C102.79 323.34 103.85 323.32 104.90 323.28 C105.95 323.25 107.01 323.22 108.06 323.19 C109.11 323.15 110.16 323.11 111.22 323.08 C112.27 323.04 113.32 323.00 114.37 322.95 C115.42 322.91 116.47 322.87 117.52 322.82 C118.57 322.77 119.62 322.73 120.67 322.68 C121.72 322.62 122.76 322.57 123.81 322.52 C124.86 322.46 125.91 322.41 126.96 322.35 C128.01 322.29 129.06 322.23 130.11 322.17 C131.15 322.11 132.20 322.04 133.25 321.98 C134.30 321.91 135.35 321.84 136.40 321.77 C137.45 321.70 138.50 321.63 139.55 321.55 C140.60 321.48 141.65 321.40 142.70 321.32 C143.75 321.24 144.80 321.16 145.86 321.08 C146.91 321.00 147.96 320.91 149.01 320.82 C150.07 320.74 151.12 320.65 152.17 320.56 C153.23 320.47 154.28 320.38 155.34 320.29 C156.39 320.20 157.45 320.11 158.50 320.03 C159.56 319.95 160.62 319.88 161.67 319.81 C162.72 319.74 163.78 319.68 164.83 319.63 C165.89 319.58 166.94 319.54 167.99 319.51 C169.05 319.48 170.10 319.47 171.15 319.47 C172.20 319.47 173.25 319.48 174.30 319.52 C175.34 319.55 176.39 319.60 177.44 319.67 C178.48 319.75 179.52 319.84 180.57 319.96 C181.61 320.07 182.65 320.21 183.68 320.37 C184.72 320.53 185.76 320.71 186.79 320.91 C187.82 321.11 188.85 321.33 189.88 321.56 C190.91 321.79 191.93 322.04 192.96 322.29 C193.98 322.55 195.00 322.83 196.02 323.10 C197.04 323.37 198.06 323.65 199.08 323.92 C200.10 324.19 201.11 324.46 202.14 324.71 C203.16 324.96 204.18 325.20 205.21 325.42 C206.24 325.63 207.27 325.83 208.31 326.00 C209.34 326.18 210.38 326.33 211.42 326.48 C212.46 326.62 213.51 326.74 214.55 326.85 C215.60 326.96 216.64 327.05 217.69 327.13 C218.74 327.21 219.79 327.28 220.84 327.34 C221.89 327.40 222.94 327.45 224.00 327.49 C225.05 327.54 226.10 327.57 227.15 327.60 C228.21 327.63 229.26 327.65 230.31 327.67 C231.37 327.68 232.42 327.70 233.47 327.71 C234.53 327.72 235.58 327.72 236.63 327.73 C237.69 327.73 238.74 327.74 239.79 327.74 C240.85 327.74 241.90 327.75 242.95 327.75 C244.01 327.75 245.06 327.76 246.11 327.76 C247.17 327.76 248.22 327.77 249.27 327.77 C250.33 327.77 251.38 327.78 252.43 327.78 C253.49 327.78 254.54 327.79 255.59 327.79 C256.65 327.79 257.70 327.79 258.75 327.80 C259.81 327.80 260.86 327.80 261.91 327.81 C262.97 327.81 264.02 327.81 265.07 327.82 C266.13 327.82 267.18 327.82 268.23 327.82 C269.28 327.83 270.34 327.83 271.39 327.83 C272.44 327.84 273.50 327.84 274.55 327.84 C275.60 327.84 276.66 327.85 277.71 327.85 C278.76 327.85 279.82 327.85 280.87 327.86 C281.92 327.86 282.98 327.86 284.03 327.86 C285.08 327.87 286.14 327.87 287.19 327.87 C288.24 327.87 289.30 327.88 290.35 327.88 C291.40 327.88 292.46 327.88 293.51 327.89 C294.56 327.89 295.61 327.89 296.67 327.89 C297.72 327.90 298.77 327.90 299.83 327.90 C300.88 327.90 301.93 327.91 302.99 327.91 C304.04 327.91 305.09 327.91 306.15 327.91 C307.20 327.92 308.25 327.92 309.31 327.92 C310.36 327.92 311.41 327.93 312.46 327.93 C313.52 327.93 314.57 327.93 315.62 327.93 C316.68 327.94 317.73 327.94 318.78 327.94 C319.84 327.94 320.89 327.94 321.94 327.95 C323.00 327.95 324.05 327.95 325.10 327.95 C326.15 327.96 327.21 327.96 328.26 327.96 C329.31 327.96 330.37 327.96 331.42 327.96 C332.47 327.97 333.53 327.97 334.58 327.97 C335.63 327.97 336.69 327.97 337.74 327.98 C338.79 327.98 339.84 327.98 340.90 327.98 C341.95 327.98 343.00 327.99 344.06 327.99 C345.11 327.99 346.16 327.99 347.22 327.99 C348.27 327.99 349.32 328.00 350.37 328.00 C351.43 328.00 352.48 328.00 353.53 328.00 C354.59 328.01 355.64 328.01 356.69 328.01 C357.75 328.01 358.80 328.01 359.85 328.01 C360.90 328.02 361.96 328.02 363.01 328.02 C364.06 328.02 365.12 328.02 366.17 328.02 C367.22 328.03 368.28 328.03 369.33 328.03 C370.38 328.03 371.43 328.03 372.49 328.03 C373.54 328.04 374.59 328.04 375.65 328.04 C376.70 328.04 377.75 328.04 378.81 328.04 C379.86 328.05 380.91 328.05 381.96 328.05 C383.02 328.05 384.07 328.05 385.12 328.05 C386.18 328.06 387.23 328.06 388.28 328.06 C389.34 328.06 390.39 328.06 391.44 328.06 C392.49 328.07 393.55 328.07 394.60 328.07 C395.65 328.07 396.71 328.07 397.76 328.07 C398.81 328.07 399.87 328.08 400.92 328.08 C401.97 328.08 403.02 328.08 404.08 328.08 C405.13 328.08 406.18 328.09 407.24 328.09 C408.29 328.09 409.34 328.09 410.39 328.09 C411.45 328.09 412.50 328.09 413.55 328.10 C414.61 328.10 415.66 328.10 416.71 328.10 C417.77 328.10 418.82 328.10 419.87 328.11 C420.92 328.11 421.98 328.11 423.03 328.11 C424.08 328.11 425.14 328.11 426.19 328.12 C427.24 328.12 428.30 328.12 429.35 328.12 C430.40 328.12 431.45 328.12 432.51 328.12 C433.56 328.13 434.61 328.13 435.67 328.13 C436.72 328.13 437.77 328.13 438.83 328.13 C439.88 328.14 440.93 328.14 441.98 328.14 C443.04 328.14 444.09 328.14 445.14 328.14 C446.20 328.15 447.25 328.15 448.30 328.15 C449.36 328.15 450.41 328.15 451.46 328.15 C452.51 328.16 453.57 328.16 454.62 328.16 C455.67 328.16 456.73 328.16 457.78 328.16 C458.83 328.17 459.89 328.17 460.94 328.17 C461.99 328.17 463.04 328.17 464.10 328.17 C465.15 328.18 466.20 328.18 467.26 328.18 C468.31 328.18 469.36 328.18 470.42 328.18 C471.47 328.19 472.52 328.19 473.57 328.19 C474.63 328.19 475.68 328.19 476.73 328.20 C477.79 328.20 478.84 328.20 479.89 328.20 C480.95 328.20 482.00 328.20 483.05 328.21 C484.11 328.21 485.16 328.21 486.21 328.21 C487.26 328.21 488.32 328.22 489.37 328.22 C490.42 328.22 491.48 328.22 492.53 328.22 C493.58 328.23 494.64 328.23 495.69 328.23 C496.74 328.23 497.80 328.23 498.85 328.24 C499.90 328.24 500.95 328.24 502.01 328.24 C503.06 328.24 504.11 328.25 505.17 328.25 C506.22 328.25 507.27 328.25 508.33 328.25 C509.38 328.26 510.43 328.26 511.49 328.26 C512.54 328.26 513.59 328.27 514.65 328.27 C515.70 328.27 516.75 328.27 517.80 328.27 C518.86 328.28 519.91 328.28 520.96 328.28 C522.02 328.28 523.07 328.29 524.12 328.29 C525.18 328.29 526.23 328.29 527.28 328.29 C528.34 328.30 529.39 328.30 530.44 328.30 C531.50 328.30 533.08 328.31 533.60 328.31" fill="none" stroke="#c56e1a" stroke-width="2.9" stroke-linejoin="round" stroke-linecap="square"/>
<line x1="223.6" y1="131.8" x2="226.8" y2="130.0" stroke="#fff" stroke-width="0.7"/>
<line x1="86.1" y1="328.55" x2="542.7" y2="328.55" stroke="#000" stroke-width="2.2"/>
<line x1="95.40" y1="45.30" x2="95.40" y2="328.30" stroke="#000" stroke-width="2.2"/>
<line x1="95.40" y1="314.19" x2="98.30" y2="314.19" stroke="#000" stroke-width="1.6"/>
<line x1="95.40" y1="300.08" x2="98.30" y2="300.08" stroke="#000" stroke-width="1.6"/>
<line x1="95.40" y1="285.97" x2="98.30" y2="285.97" stroke="#000" stroke-width="1.6"/>
<line x1="95.40" y1="271.86" x2="100.85" y2="271.86" stroke="#000" stroke-width="1.6"/>
<line x1="95.40" y1="257.75" x2="98.30" y2="257.75" stroke="#000" stroke-width="1.6"/>
<line x1="95.40" y1="243.64" x2="98.30" y2="243.64" stroke="#000" stroke-width="1.6"/>
<line x1="95.40" y1="229.53" x2="98.30" y2="229.53" stroke="#000" stroke-width="1.6"/>
<line x1="95.40" y1="215.42" x2="100.85" y2="215.42" stroke="#000" stroke-width="1.6"/>
<line x1="95.40" y1="201.31" x2="98.30" y2="201.31" stroke="#000" stroke-width="1.6"/>
<line x1="95.40" y1="187.20" x2="98.30" y2="187.20" stroke="#000" stroke-width="1.6"/>
<line x1="95.40" y1="173.09" x2="98.30" y2="173.09" stroke="#000" stroke-width="1.6"/>
<line x1="95.40" y1="158.98" x2="100.85" y2="158.98" stroke="#000" stroke-width="1.6"/>
<line x1="95.40" y1="144.87" x2="98.30" y2="144.87" stroke="#000" stroke-width="1.6"/>
<line x1="95.40" y1="130.76" x2="98.30" y2="130.76" stroke="#000" stroke-width="1.6"/>
<line x1="95.40" y1="116.65" x2="98.30" y2="116.65" stroke="#000" stroke-width="1.6"/>
<line x1="95.40" y1="102.54" x2="100.85" y2="102.54" stroke="#000" stroke-width="1.6"/>
<line x1="95.40" y1="88.43" x2="98.30" y2="88.43" stroke="#000" stroke-width="1.6"/>
<line x1="95.40" y1="74.32" x2="98.30" y2="74.32" stroke="#000" stroke-width="1.6"/>
<line x1="95.40" y1="60.21" x2="98.30" y2="60.21" stroke="#000" stroke-width="1.6"/>
<line x1="95.40" y1="46.10" x2="100.85" y2="46.10" stroke="#000" stroke-width="1.6"/>
<line x1="139.36" y1="328.30" x2="139.36" y2="323.20" stroke="#000" stroke-width="1.7"/>
<line x1="165.07" y1="328.30" x2="165.07" y2="323.20" stroke="#000" stroke-width="1.7"/>
<line x1="183.32" y1="328.30" x2="183.32" y2="323.20" stroke="#000" stroke-width="1.7"/>
<line x1="197.47" y1="328.30" x2="197.47" y2="323.20" stroke="#000" stroke-width="1.7"/>
<line x1="209.03" y1="328.30" x2="209.03" y2="323.20" stroke="#000" stroke-width="1.7"/>
<line x1="218.81" y1="328.30" x2="218.81" y2="323.20" stroke="#000" stroke-width="1.7"/>
<line x1="227.28" y1="328.30" x2="227.28" y2="323.20" stroke="#000" stroke-width="1.7"/>
<line x1="234.75" y1="328.30" x2="234.75" y2="323.20" stroke="#000" stroke-width="1.7"/>
<line x1="241.43" y1="328.30" x2="241.43" y2="323.20" stroke="#000" stroke-width="1.7"/>
<line x1="285.39" y1="328.30" x2="285.39" y2="323.20" stroke="#000" stroke-width="1.7"/>
<line x1="311.10" y1="328.30" x2="311.10" y2="323.20" stroke="#000" stroke-width="1.7"/>
<line x1="329.35" y1="328.30" x2="329.35" y2="323.20" stroke="#000" stroke-width="1.7"/>
<line x1="343.50" y1="328.30" x2="343.50" y2="323.20" stroke="#000" stroke-width="1.7"/>
<line x1="355.06" y1="328.30" x2="355.06" y2="323.20" stroke="#000" stroke-width="1.7"/>
<line x1="364.84" y1="328.30" x2="364.84" y2="323.20" stroke="#000" stroke-width="1.7"/>
<line x1="373.31" y1="328.30" x2="373.31" y2="323.20" stroke="#000" stroke-width="1.7"/>
<line x1="380.78" y1="328.30" x2="380.78" y2="323.20" stroke="#000" stroke-width="1.7"/>
<line x1="387.46" y1="328.30" x2="387.46" y2="323.20" stroke="#000" stroke-width="1.7"/>
<line x1="431.42" y1="328.30" x2="431.42" y2="323.20" stroke="#000" stroke-width="1.7"/>
<line x1="457.13" y1="328.30" x2="457.13" y2="323.20" stroke="#000" stroke-width="1.7"/>
<line x1="475.38" y1="328.30" x2="475.38" y2="323.20" stroke="#000" stroke-width="1.7"/>
<line x1="489.53" y1="328.30" x2="489.53" y2="323.20" stroke="#000" stroke-width="1.7"/>
<line x1="501.09" y1="328.30" x2="501.09" y2="323.20" stroke="#000" stroke-width="1.7"/>
<line x1="510.87" y1="328.30" x2="510.87" y2="323.20" stroke="#000" stroke-width="1.7"/>
<line x1="519.34" y1="328.30" x2="519.34" y2="323.20" stroke="#000" stroke-width="1.7"/>
<line x1="526.81" y1="328.30" x2="526.81" y2="323.20" stroke="#000" stroke-width="1.7"/>
<line x1="533.49" y1="328.30" x2="533.49" y2="323.20" stroke="#000" stroke-width="1.7"/>
<text x="21.30" y="28.30" font-size="24.00" text-anchor="start" >Re(<tspan font-style="italic">Y</tspan><tspan font-style="italic" font-size="18" dy="3.5">m</tspan><tspan dy="-3.5">)/Re(Y)</tspan></text>
<text x="90.40" y="280.76" font-size="24.00" text-anchor="end" >0.2</text>
<text x="90.40" y="224.32" font-size="24.00" text-anchor="end" >0.4</text>
<text x="90.40" y="167.88" font-size="24.00" text-anchor="end" >0.6</text>
<text x="90.40" y="111.44" font-size="24.00" text-anchor="end" >0.8</text>
<text x="90.40" y="55.00" font-size="24.00" text-anchor="end" >1.0</text>
<text x="71.60" y="357.50" font-size="24.00" text-anchor="start" >10<tspan font-size="17.6" dy="-9.3" dx="0.3">17</tspan></text>
<text x="218.53" y="357.50" font-size="24.00" text-anchor="start" >10<tspan font-size="17.6" dy="-9.3" dx="0.3">18</tspan></text>
<text x="364.56" y="357.50" font-size="24.00" text-anchor="start" >10<tspan font-size="17.6" dy="-9.3" dx="0.3">19</tspan></text>
<text x="510.59" y="357.50" font-size="24.00" text-anchor="start" >10<tspan font-size="17.6" dy="-9.3" dx="0.3">20</tspan></text>
<text x="556.50" y="336.80" font-size="24.00" text-anchor="start" ><tspan font-style="italic">n</tspan><tspan font-style="italic" font-size="17.5" dy="3">e</tspan><tspan dy="-3"> [</tspan><tspan font-style="italic" font-size="24.5">m</tspan><tspan font-size="17.8" dy="-10" dx="0.6">−3</tspan><tspan dy="10" dx="0.8">]</tspan></text>
<line x1="10.30" y1="401.5" x2="44.30" y2="401.5" stroke="#5e81b5" stroke-width="2.6"/>
<text x="56.50" y="408.00" font-size="22.50" text-anchor="start" >m=0</text>
<line x1="120.70" y1="401.5" x2="154.70" y2="401.5" stroke="#e19c24" stroke-width="2.6"/>
<text x="166.90" y="408.00" font-size="22.50" text-anchor="start" >m=1</text>
<line x1="231.10" y1="401.5" x2="265.10" y2="401.5" stroke="#8fb032" stroke-width="2.6"/>
<text x="277.30" y="408.00" font-size="22.50" text-anchor="start" >m=2</text>
<line x1="341.50" y1="401.5" x2="375.50" y2="401.5" stroke="#eb6235" stroke-width="2.6"/>
<text x="387.70" y="408.00" font-size="22.50" text-anchor="start" >m=3</text>
<line x1="451.90" y1="401.5" x2="485.90" y2="401.5" stroke="#8778b3" stroke-width="2.6"/>
<text x="498.10" y="408.00" font-size="22.50" text-anchor="start" >m=4</text>
<line x1="562.30" y1="401.5" x2="596.30" y2="401.5" stroke="#c56e1a" stroke-width="2.6"/>
<text x="608.50" y="408.00" font-size="22.50" text-anchor="start" >m=5</text>
</svg>
</body></html>
